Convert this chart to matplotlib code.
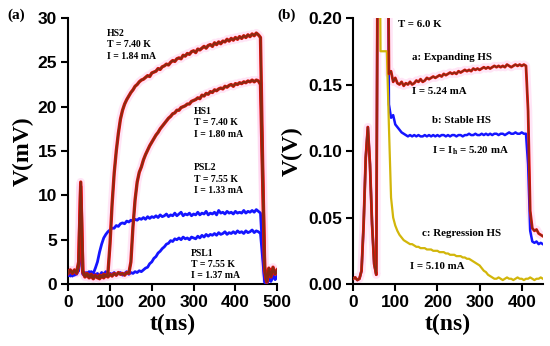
import matplotlib
matplotlib.use("Agg")
import matplotlib.pyplot as plt
import numpy as np

# ---- panel (a): time grid 0..500 ns, step 5 ----
t_a = list(range(0, 505, 5))

hs2 = [1.4, 1.6, 1.2, 1.5, 1.3, 2.5, 11.5, 1.5, 1.0, 1.2,
       0.9, 1.1, 0.8, 1.0, 0.7, 1.0, 0.8, 1.1, 0.9, 1.2,
       4.5, 9.0, 12.5, 15.0, 17.0, 18.6, 19.6, 20.3, 20.8, 21.2,
       21.6, 21.9, 22.3, 22.5, 22.8, 23.0, 23.1, 23.3, 23.5, 23.4,
       23.8, 23.9, 24.0, 24.3, 24.2, 24.5, 24.6, 24.8, 24.7, 25.0,
       25.2, 25.1, 25.4, 25.5, 25.4, 25.8, 25.7, 26.0, 25.9, 26.2,
       26.3, 26.1, 26.5, 26.4, 26.6, 26.8, 26.6, 26.9, 27.0, 26.8,
       27.2, 27.0, 27.3, 27.1, 27.4, 27.3, 27.6, 27.4, 27.7, 27.5,
       27.8, 27.6, 27.9, 27.7, 28.0, 27.8, 28.1, 27.9, 28.2, 28.0,
       28.3, 28.1, 27.8, 14.0, 2.0, 0.3, 1.8, 1.0, 1.9, 1.2, 1.6]

hs1 = [1.2, 1.5, 1.3, 1.6, 1.2, 2.0, 11.0, 1.3, 0.8, 1.0,
       0.7, 0.9, 0.6, 0.9, 0.8, 0.6, 0.9, 0.7, 1.0, 0.8,
       1.1, 0.9, 1.2, 1.0, 1.3, 1.1, 1.2, 1.0, 1.3, 1.2,
       2.5, 6.5, 9.5, 11.5, 12.6, 13.2, 14.0, 14.6, 15.1, 15.6,
       16.0, 16.4, 16.8, 17.1, 17.5, 17.8, 18.1, 18.4, 18.7, 18.9,
       19.2, 19.3, 19.6, 19.6, 19.9, 20.0, 20.1, 20.3, 20.3, 20.6,
       20.7, 20.8, 21.0, 20.9, 21.3, 21.2, 21.5, 21.4, 21.7, 21.6,
       21.9, 21.8, 22.0, 22.1, 22.0, 22.3, 22.2, 22.4, 22.5, 22.3,
       22.6, 22.5, 22.7, 22.6, 22.8, 22.7, 22.9, 22.8, 23.0, 22.8,
       23.0, 22.9, 22.5, 12.0, 1.5, 0.2, 1.5, 0.8, 1.7, 1.1, 1.4]

psl2 = [1.2, 0.9, 1.4, 1.0, 1.3, 1.5, 5.0, 1.2, 0.9, 1.3,
        1.0, 1.4, 1.2, 1.8, 2.5, 3.6, 4.5, 5.2, 5.6, 5.9,
        6.1, 6.3, 6.3, 6.6, 6.5, 6.8, 6.9, 6.8, 7.1, 7.0,
        7.2, 7.1, 7.3, 7.2, 7.4, 7.3, 7.5, 7.3, 7.6, 7.4,
        7.6, 7.5, 7.7, 7.5, 7.8, 7.6, 7.7, 7.9, 7.6, 7.8,
        7.7, 8.0, 7.7, 7.9, 8.1, 7.7, 7.9, 7.8, 8.0, 7.7,
        7.9, 7.8, 8.1, 7.8, 8.0, 7.9, 8.2, 7.8, 8.0, 7.9,
        8.1, 7.8, 8.3, 8.0, 8.1, 7.9, 8.2, 8.0, 8.1, 7.9,
        8.2, 8.0, 8.1, 8.0, 8.3, 8.0, 8.2, 8.1, 8.3, 8.1,
        8.4, 8.2, 8.0, 4.0, 0.3, 0.1, 0.8, 0.4, 1.0, 0.6, 0.9]

psl1 = [1.0, 1.3, 0.9, 1.2, 1.1, 1.6, 4.8, 1.1, 1.3, 1.0,
        1.4, 1.1, 1.3, 1.0, 1.2, 0.9, 1.3, 1.1, 1.4, 1.0,
        1.2, 1.1, 1.3, 1.0, 1.2, 1.3, 1.0, 1.2, 1.4, 1.1,
        1.3, 1.2, 1.4, 1.3, 1.5, 1.4, 1.6, 1.8, 1.9, 2.3,
        2.5, 2.9, 3.1, 3.5, 3.7, 4.0, 4.2, 4.5, 4.6, 4.9,
        4.8, 5.1, 5.0, 5.2, 5.0, 5.3, 5.1, 5.2, 5.0, 5.3,
        5.2, 5.1, 5.4, 5.2, 5.5, 5.3, 5.6, 5.4, 5.6, 5.5,
        5.7, 5.5, 5.8, 5.6, 5.7, 5.9, 5.6, 5.8, 5.7, 5.9,
        5.7, 6.0, 5.8, 5.9, 5.7, 6.0, 5.8, 5.9, 6.1, 5.8,
        6.0, 5.9, 5.7, 3.0, 0.2, 0.0, 0.6, 0.3, 0.9, 0.5, 0.8]

# ---- panel (b): time grid 0..450 ns, step 5 ----
t_b = list(range(0, 455, 5))

hs_a = [0.004, 0.005, 0.003, 0.004, 0.010, 0.045, 0.095, 0.118, 0.090, 0.045,
        0.015, 0.007, 0.400, 0.400, 0.400, 0.400, 0.400, 0.158, 0.160, 0.152,
        0.155, 0.151, 0.150, 0.152, 0.149, 0.151, 0.150, 0.152, 0.150, 0.151,
        0.153, 0.152, 0.154, 0.152, 0.153, 0.155, 0.154, 0.155, 0.156, 0.155,
        0.156, 0.157, 0.156, 0.158, 0.157, 0.158, 0.159, 0.158, 0.159, 0.158,
        0.160, 0.159, 0.160, 0.161, 0.160, 0.161, 0.160, 0.162, 0.161, 0.162,
        0.161, 0.162, 0.163, 0.162, 0.163, 0.162, 0.163, 0.164, 0.163, 0.164,
        0.163, 0.164, 0.163, 0.165, 0.164, 0.163, 0.164, 0.165, 0.164, 0.165,
        0.164, 0.165, 0.164, 0.130, 0.055, 0.042, 0.040, 0.041, 0.038, 0.037,
        0.036]

hs_b = [0.004, 0.005, 0.003, 0.004, 0.010, 0.045, 0.095, 0.118, 0.090, 0.045,
        0.015, 0.007, 0.400, 0.400, 0.400, 0.400, 0.400, 0.135, 0.125, 0.127,
        0.120, 0.118, 0.116, 0.114, 0.113, 0.112, 0.111, 0.112, 0.111, 0.112,
        0.111, 0.112, 0.111, 0.111, 0.112, 0.111, 0.112, 0.111, 0.112, 0.111,
        0.112, 0.111, 0.112, 0.112, 0.111, 0.112, 0.111, 0.112, 0.112, 0.111,
        0.112, 0.112, 0.111, 0.112, 0.112, 0.113, 0.112, 0.112, 0.113, 0.112,
        0.112, 0.113, 0.112, 0.113, 0.112, 0.113, 0.112, 0.113, 0.113, 0.112,
        0.113, 0.113, 0.112, 0.113, 0.114, 0.113, 0.113, 0.114, 0.113, 0.113,
        0.114, 0.113, 0.113, 0.090, 0.040, 0.032, 0.031, 0.032, 0.030, 0.031,
        0.030]

hs_c = [0.004, 0.005, 0.003, 0.004, 0.010, 0.045, 0.095, 0.118, 0.090, 0.045,
        0.015, 0.007, 0.400, 0.175, 0.175, 0.175, 0.175, 0.118, 0.065, 0.050,
        0.044, 0.040, 0.037, 0.035, 0.033, 0.032, 0.031, 0.030, 0.030, 0.029,
        0.028, 0.028, 0.027, 0.027, 0.027, 0.026, 0.026, 0.026, 0.025, 0.025,
        0.025, 0.024, 0.024, 0.024, 0.023, 0.023, 0.022, 0.022, 0.022, 0.021,
        0.021, 0.021, 0.020, 0.020, 0.019, 0.019, 0.018, 0.017, 0.016, 0.015,
        0.014, 0.012, 0.010, 0.009, 0.007, 0.006, 0.005, 0.004, 0.004, 0.005,
        0.004, 0.003, 0.004, 0.005, 0.004, 0.004, 0.003, 0.004, 0.005, 0.004,
        0.004, 0.003, 0.004, 0.004, 0.005, 0.004, 0.003, 0.004, 0.004, 0.005,
        0.004]

RED = '#e8100c'
BROWN = '#8a2a12'
BLUE = '#1515ff'
GOLD = '#d2b60a'
PINK = '#ffcdee'

sans = 'Liberation Sans'
serif = 'Liberation Serif'

fig = plt.figure(figsize=(5.5, 3.46), dpi=100)
ax1 = fig.add_axes([0.124, 0.179, 0.38, 0.769])
ax2 = fig.add_axes([0.642, 0.179, 0.345, 0.769])


def style(ax):
    for s in ['top', 'right']:
        ax.spines[s].set_visible(False)
    for s in ['left', 'bottom']:
        ax.spines[s].set_linewidth(1.5)
    ax.tick_params(direction='out', length=5, width=1.5, pad=3)
    for lab in ax.get_xticklabels() + ax.get_yticklabels():
        lab.set_fontfamily(sans)
        lab.set_fontweight('bold')
        lab.set_fontsize(12.5)


def trace(ax, t, v, col, lw=1.6, halo=True):
    if halo:
        ax.plot(t, v, color=PINK, lw=6, alpha=0.5, zorder=1, solid_capstyle='butt')
    ax.plot(t, v, color=col, lw=lw, zorder=3)


# panel (a)
trace(ax1, t_a, psl2, BLUE, lw=2.0, halo=False)
trace(ax1, t_a, psl1, BLUE, lw=2.0, halo=False)
for v in (hs1, hs2):
    trace(ax1, t_a, v, RED, lw=2.4)
    ax1.plot(t_a, v, color=BROWN, lw=1.5, zorder=4)

ax1.set_xlim(0, 500)
ax1.set_ylim(0, 30)
ax1.set_xticks([0, 100, 200, 300, 400, 500])
ax1.set_yticks([0, 5, 10, 15, 20, 25, 30])
style(ax1)
ax1.set_xlabel('t(ns)', fontfamily=serif, fontweight='bold', fontsize=17, labelpad=3)
ax1.set_ylabel('V(mV)', fontfamily=serif, fontweight='bold', fontsize=17, labelpad=3)

ann = dict(fontfamily=serif, fontweight='bold', fontsize=7, va='top', ha='left',
           linespacing=1.35, zorder=6)
ax1.text(92, 28.8, 'HS2\nT = 7.40 K\nI = 1.84 mA', **ann)
ax1.text(300, 20.0, 'HS1\nT = 7.40 K\nI = 1.80 mA', **ann)
ax1.text(300, 13.6, 'PSL2\nT = 7.55 K\nI = 1.33 mA', **ann)
ax1.text(294, 4.0, 'PSL1\nT = 7.55 K\nI = 1.37 mA', **ann)

fig.text(0.013, 0.955, '(a)', fontfamily=serif, fontweight='bold', fontsize=11, va='center')

# panel (b)
trace(ax2, t_b, hs_b, BLUE, lw=1.8, halo=False)
trace(ax2, t_b, hs_c, GOLD, lw=1.6, halo=False)
trace(ax2, t_b, hs_a, RED, lw=2.0)
ax2.plot(t_b, hs_a, color=BROWN, lw=1.1, zorder=4)

ax2.set_xlim(0, 450)
ax2.set_ylim(0, 0.2)
ax2.set_xticks([0, 100, 200, 300, 400])
ax2.set_yticks([0.00, 0.05, 0.10, 0.15, 0.20])
ax2.set_yticklabels(['0.00', '0.05', '0.10', '0.15', '0.20'])
style(ax2)
ax2.set_xlabel('t(ns)', fontfamily=serif, fontweight='bold', fontsize=17, labelpad=3)
ax2.set_ylabel('V(V)', fontfamily=serif, fontweight='bold', fontsize=17, labelpad=4)

annb = dict(fontfamily=serif, fontweight='bold', fontsize=7.8, va='center', ha='left', zorder=6)
ax2.text(106, 0.195, 'T = 6.0 K', **annb)
ax2.text(140, 0.170, 'a: Expanding HS', **annb)
ax2.text(140, 0.145, 'I = 5.24 mA', **annb)
ax2.text(186, 0.123, 'b: Stable HS', **annb)
ax2.text(186, 0.100, r'I = I$_\mathregular{h}$ = 5.20 mA', **annb)
ax2.text(164, 0.038, 'c: Regression HS', **annb)
ax2.text(136, 0.013, 'I = 5.10 mA', **annb)

fig.text(0.505, 0.955, '(b)', fontfamily=serif, fontweight='bold', fontsize=11, va='center')

fig.savefig('out.png', dpi=100)
